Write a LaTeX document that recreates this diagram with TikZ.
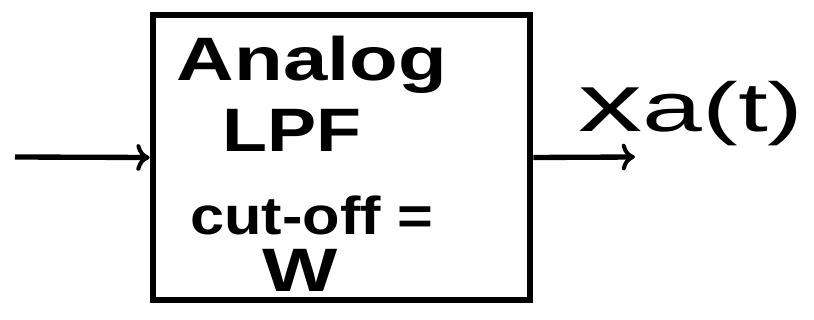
\documentclass[tikz,border=0pt]{standalone}
\usepackage{fontspec}
\setmainfont{Liberation Sans}
\usetikzlibrary{arrows.meta}
\begin{document}
\begin{tikzpicture}[x=0.75pt,y=-0.75pt,
  ink/.style={line width=5pt, black},
  wire/.style={line width=4pt, black, -{To[length=10pt,width=20pt,line width=3pt]}},
  hand/.style={font=\fontsize{46}{50}\selectfont\bfseries, inner sep=0pt}]
\useasboundingbox (0,0) rectangle (814,320);
% filter block
\node[draw, ink, minimum width=377*0.75pt, minimum height=285*0.75pt, inner sep=0pt] (lpf) at (341.5,157.5) {};
\node[hand, xscale=1.3] (l1) at (312,65) {Analog};
\node[hand, xscale=1.2] (l2) at (292,130) {LPF};
\node[hand, font=\fontsize{40}{44}\selectfont\bfseries, xscale=1.15] (l3) at (312,215) {cut-off =};
\node[hand, xscale=1.3] (l4) at (300,270) {W};
% signal path
\coordinate (in) at (15,157);
\coordinate (out) at (635,157);
\draw[wire] (in) -- (lpf.west);
\draw[wire] (lpf.east) -- (out);
\node[hand, font=\fontsize{62}{66}\selectfont, xscale=1.55, anchor=base west] (xa) at (578,132) {x\fontsize{52}{56}\selectfont a(t)};
\end{tikzpicture}
\end{document}
